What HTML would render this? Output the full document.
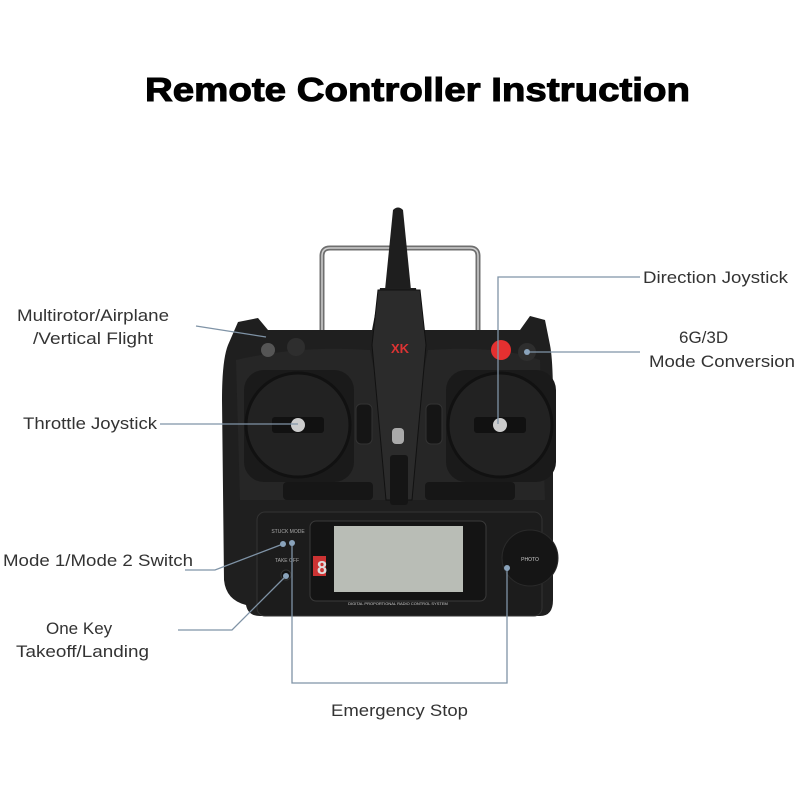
<!DOCTYPE html>
<html><head><meta charset="utf-8"><style>
body{margin:0;background:#fff;width:800px;height:800px;overflow:hidden}
svg{display:block}
text{font-family:"Liberation Sans",sans-serif;fill:#333}
</style></head><body>
<svg width="800" height="800" viewBox="0 0 800 800">
<text x="145" y="101" font-size="33" font-weight="bold" textLength="545" lengthAdjust="spacingAndGlyphs" stroke="#000" stroke-width="1" style="fill:#000">Remote Controller Instruction</text>
<!-- handle -->
<path d="M322 330 L322 256 Q322 248 330 248 L470 248 Q478 248 478 256 L478 330" fill="none" stroke="#6f6f6f" stroke-width="5"/>
<path d="M322 330 L322 256 Q322 248 330 248 L470 248 Q478 248 478 256 L478 330" fill="none" stroke="#cfcfcf" stroke-width="1.5"/>
<!-- antenna -->
<path d="M393 210 Q398 205 403 210 L411 290 L385 290 Z" fill="#1e1e1e"/>
<!-- body -->
<path d="M238 322 L258 318 L268 330 L372 330 L380 288 L416 288 L424 330 L520 330 L530 316 L545 320 L550 345 Q553 360 553 400 L553 600 Q553 616 540 616 L260 616 Q248 616 246 605 Q226 600 224 580 L222 400 Q222 360 228 345 Z" fill="#1f1f1f"/>
<path d="M236 360 Q300 345 370 350 L380 400 L390 500 L408 500 L418 400 L428 350 Q500 345 540 360 L545 500 L240 500 Z" fill="#262626"/>
<!-- center spine -->
<path d="M378 290 L420 290 L426 345 L412 500 L386 500 L372 345 Z" fill="#2b2b2b" stroke="#111" stroke-width="1"/>
<text x="391" y="353" font-size="13" font-weight="bold" style="fill:#d33">XK</text>
<!-- gimbals -->
<rect x="244" y="370" width="110" height="112" rx="20" fill="#1a1a1a"/>
<rect x="446" y="370" width="110" height="112" rx="20" fill="#1a1a1a"/>
<circle cx="298" cy="425" r="52" fill="#222" stroke="#111" stroke-width="3"/>
<circle cx="500" cy="425" r="52" fill="#222" stroke="#111" stroke-width="3"/>
<rect x="272" y="417" width="52" height="16" rx="3" fill="#111"/>
<rect x="474" y="417" width="52" height="16" rx="3" fill="#111"/>
<circle cx="298" cy="425" r="7" fill="#ccc"/>
<circle cx="500" cy="425" r="7" fill="#ccc"/>
<!-- trims -->
<rect x="356" y="404" width="16" height="40" rx="5" fill="#151515" stroke="#333"/>
<rect x="426" y="404" width="16" height="40" rx="5" fill="#151515" stroke="#333"/>
<rect x="392" y="428" width="12" height="16" rx="4" fill="#aaa"/>
<rect x="390" y="455" width="18" height="50" rx="3" fill="#151515"/>
<rect x="283" y="482" width="90" height="18" rx="4" fill="#161616"/>
<rect x="425" y="482" width="90" height="18" rx="4" fill="#161616"/>
<!-- buttons -->
<circle cx="268" cy="350" r="7" fill="#555"/>
<circle cx="296" cy="347" r="9" fill="#2e2e2e"/>
<circle cx="501" cy="350" r="10" fill="#e53030"/>
<circle cx="527" cy="352" r="9" fill="#2e2e2e"/>
<!-- lower panel -->
<rect x="257" y="512" width="285" height="104" rx="8" fill="#1c1c1c" stroke="#333"/>
<rect x="310" y="521" width="176" height="80" rx="6" fill="#141414" stroke="#3a3a3a"/>
<rect x="334" y="526" width="129" height="66" fill="#b9bdb6"/>
<rect x="313" y="556" width="13" height="20" fill="#c33"/>
<text x="317" y="574" font-size="18" font-weight="bold" style="fill:#ddd">8</text>
<text x="398" y="605" font-size="4" text-anchor="middle" style="fill:#ccc">DIGITAL PROPORTIONAL RADIO CONTROL SYSTEM</text>
<circle cx="530" cy="558" r="28" fill="#151515" stroke="#2a2a2a"/>
<text x="530" y="561" font-size="5" text-anchor="middle" style="fill:#ccc">PHOTO</text>
<text x="288" y="533" font-size="5" text-anchor="middle" style="fill:#aaa">STUCK MODE</text>
<text x="287" y="562" font-size="5" text-anchor="middle" style="fill:#aaa">TAKE OFF</text>
<circle cx="286" cy="575" r="5" fill="#111" stroke="#333"/>
<!-- connectors -->
<g fill="none" stroke="#7f93a6" stroke-width="1.3">
<path d="M196 326 L266 337"/>
<path d="M160 424 L298 424"/>
<path d="M640 277 L498 277 L498 424"/>
<path d="M640 352 L527 352"/>
<path d="M185 570 L215 570 L283 544"/>
<path d="M178 630 L232 630 L286 576"/>
<path d="M292 543 L292 683 L507 683 L507 568"/>
</g>
<g fill="#8aa3bb"><circle cx="283" cy="544" r="3"/><circle cx="292" cy="543" r="3"/><circle cx="286" cy="576" r="3"/><circle cx="507" cy="568" r="3"/><circle cx="527" cy="352" r="3"/></g>
<!-- labels -->
<g font-size="17">
<text x="17" y="321" textLength="152" lengthAdjust="spacingAndGlyphs">Multirotor/Airplane</text>
<text x="33" y="344" textLength="120" lengthAdjust="spacingAndGlyphs">/Vertical Flight</text>
<text x="23" y="429" textLength="134" lengthAdjust="spacingAndGlyphs">Throttle Joystick</text>
<text x="643" y="283" textLength="145" lengthAdjust="spacingAndGlyphs">Direction Joystick</text>
<text x="679" y="343">6G/3D</text>
<text x="649" y="367" textLength="146" lengthAdjust="spacingAndGlyphs">Mode Conversion</text>
<text x="3" y="566" textLength="190" lengthAdjust="spacingAndGlyphs">Mode 1/Mode 2 Switch</text>
<text x="46" y="634">One Key</text>
<text x="16" y="657" textLength="133" lengthAdjust="spacingAndGlyphs">Takeoff/Landing</text>
<text x="331" y="716" textLength="137" lengthAdjust="spacingAndGlyphs">Emergency Stop</text>
</g>
</svg>
</body></html>
